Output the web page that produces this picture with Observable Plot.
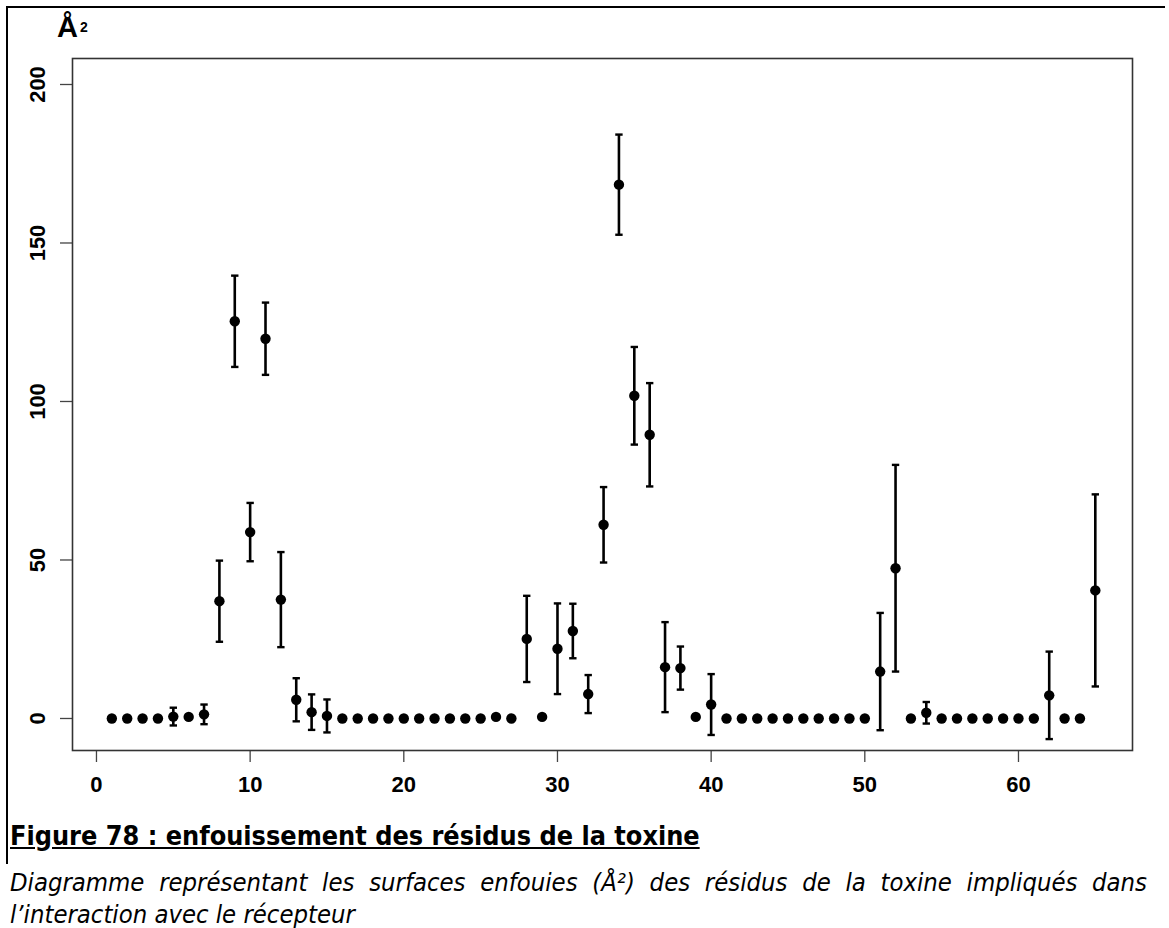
<!DOCTYPE html>
<html>
<head>
<meta charset="utf-8">
<script src="https://cdn.jsdelivr.net/npm/d3@7"></script>
<script src="https://cdn.jsdelivr.net/npm/@observablehq/plot@0.6"></script>
<style>
  html, body { margin: 0; padding: 0; background: #fff; }
  #wrap { position: relative; width: 1169px; height: 928px; overflow: hidden; background: #fff; }
  #chart { position: absolute; left: 0; top: 0; }
  #border { position: absolute; left: 6px; top: 6px; width: 1157px; height: 856px;
            border-top: 2px solid #000; border-left: 2px solid #000; }
  #ylab { position: absolute; left: 57px; top: 13px; font-family: "Liberation Sans", Arial, sans-serif;
          font-weight: bold; font-size: 29px; color: #000; line-height: 1; white-space: nowrap; }
  #ylab span { font-size: 14px; position: relative; top: -5px; margin-left: 2px; }
  #title { position: absolute; left: 10px; top: 821px; font-family: "DejaVu Sans Condensed", "DejaVu Sans", sans-serif;
           font-weight: bold; font-size: 21px; text-decoration: underline; color: #000; white-space: nowrap; line-height: 1.1; }
  .desc { position: absolute; left: 10px; font-family: "DejaVu Sans Condensed", "DejaVu Sans", sans-serif;
          font-style: italic; font-size: 20px; line-height: 32px; color: #000; white-space: nowrap; }
  #desc1 { top: 866px; width: 1137px; text-align: justify; text-align-last: justify; white-space: normal; }
  #desc2 { top: 898px; }
</style>
</head>
<body>
<div id="wrap">
  <div id="chart"></div>
  <div id="border"></div>
  <div id="ylab">Å<span>2</span></div>
  <div id="title">Figure 78 : enfouissement des résidus de la toxine</div>
  <div class="desc" id="desc1">Diagramme représentant les surfaces enfouies (Å²) des résidus de la toxine impliqués dans</div>
  <div class="desc" id="desc2">l’interaction avec le récepteur</div>
</div>
<script>
// Residue numbers
const residues = [1,2,3,4,5,6,7,8,9,10,11,12,13,14,15,16,17,18,19,20,21,22,23,24,25,26,27,28,29,30,
  31,32,33,34,35,36,37,38,39,40,41,42,43,44,45,46,47,48,49,50,51,52,53,54,55,56,57,58,59,60,61,62,63,64,65];
// Mean buried surface (Å²)
const buried = [0,0,0,0,0.6,0.5,1.3,37.0,125.3,58.8,119.8,37.5,5.9,2.0,0.8,0,0,0,0,0,0,0,0,0,0,0.5,0,25.1,0.5,22.0,
  27.6,7.7,61.1,168.4,101.8,89.5,16.2,15.9,0.5,4.4,0,0,0,0,0,0,0,0,0,0,14.8,47.4,0,1.8,0,0,0,0,0,0,0,7.3,0,0,40.4];
// Error (half-length of bar)
const errors = [0,0,0,0,2.8,0,3.1,12.8,14.4,9.2,11.4,15.0,6.8,5.6,5.2,0,0,0,0,0,0,0,0,0,0,0,0,13.6,0,14.3,
  8.6,6.0,11.9,15.8,15.4,16.3,14.2,6.8,0,9.6,0,0,0,0,0,0,0,0,0,0,18.5,32.6,0,3.4,0,0,0,0,0,0,0,13.8,0,0,30.3];
const xTicks = [0,10,20,30,40,50,60];
const yTicks = [0,50,100,150,200];

const data = residues.map((r, i) => ({res: r, v: buried[i], e: errors[i]}));
const withErr = data.filter(d => d.e > 0);

const font = "Liberation Sans, Arial, sans-serif";
const chart = Plot.plot({
  width: 1169,
  height: 800,
  marginLeft: 72,
  marginRight: 37,
  marginTop: 58,
  marginBottom: 50,
  style: {fontFamily: font, background: "transparent", overflow: "visible"},
  x: {domain: [-1.56, 67.42], label: null},
  y: {domain: [-10.1, 208.2], label: null},
  marks: [
    Plot.axisX({ticks: xTicks, tickSize: 12, tickPadding: 14, fontSize: 22, fontWeight: "bold", stroke: "#444", strokeWidth: 1.3, fill: "#000", label: null, tickFormat: d => String(d)}),
    Plot.axisY({ticks: yTicks, tickSize: 12, stroke: "#444", strokeWidth: 1.3, label: null, tickFormat: () => ""}),
    Plot.text(yTicks, {y: d => d, text: d => String(d), frameAnchor: "left", dx: -35, rotate: -90,
      textAnchor: "middle", lineAnchor: "middle", fontSize: 22, fontWeight: "bold", fill: "#000"}),
    Plot.frame({stroke: "#333", strokeWidth: 1.6}),
    Plot.ruleX(withErr, {x: "res", y1: d => d.v - d.e, y2: d => d.v + d.e, stroke: "#000", strokeWidth: 2.6}),
    Plot.link(withErr, {x1: d => d.res - 0.24, x2: d => d.res + 0.24, y1: d => d.v + d.e, y2: d => d.v + d.e, stroke: "#000", strokeWidth: 2.4}),
    Plot.link(withErr, {x1: d => d.res - 0.24, x2: d => d.res + 0.24, y1: d => d.v - d.e, y2: d => d.v - d.e, stroke: "#000", strokeWidth: 2.4}),
    Plot.dot(data, {x: "res", y: "v", r: 5.2, fill: "#000", stroke: "none"})
  ]
});
document.getElementById("chart").appendChild(chart);

// Fit caption text widths to the reference layout
function fitWidth(el, target) {
  const w = el.getBoundingClientRect().width;
  const fs = parseFloat(getComputedStyle(el).fontSize);
  el.style.fontSize = (fs * target / w).toFixed(2) + "px";
}
fitWidth(document.getElementById("title"), 690);
const d2 = document.getElementById("desc2");
fitWidth(d2, 345);
document.getElementById("desc1").style.fontSize = d2.style.fontSize;
</script>
</body>
</html>
